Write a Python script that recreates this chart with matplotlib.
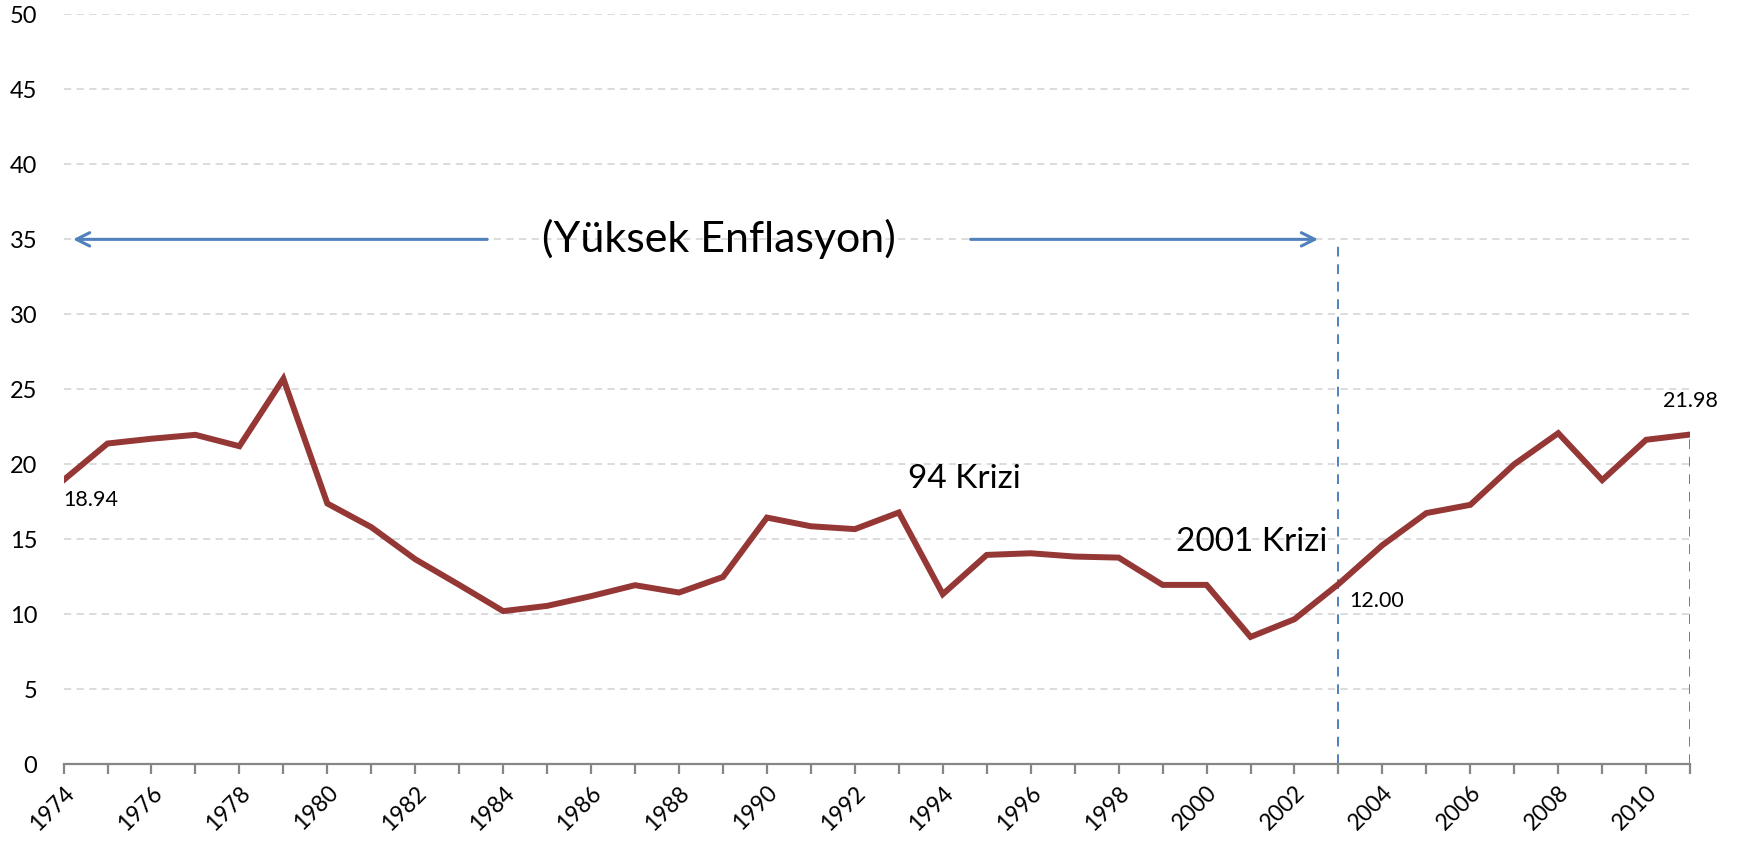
import matplotlib
matplotlib.use("Agg")
import matplotlib.pyplot as plt

plt.rcParams['font.family'] = ['Lato', 'DejaVu Sans']

years = list(range(1974, 2012))
values = [18.94, 21.38, 21.70, 21.96, 21.20, 25.70, 17.38, 15.80, 13.66, 11.95,
          10.20, 10.55, 11.20, 11.93, 11.44, 12.48, 16.44, 15.86, 15.67, 16.78,
          11.33, 13.95, 14.06, 13.84, 13.77, 11.95, 11.95, 8.48, 9.66, 12.00,
          14.60, 16.74, 17.29, 20.00, 22.07, 18.94, 21.63, 21.98]
yticks = [0, 5, 10, 15, 20, 25, 30, 35, 40, 45, 50]

line_color = '#953735'
blue = '#4f81bd'

fig = plt.figure(figsize=(17.46, 8.42), dpi=100)
ax = fig.add_axes([0.0364, 0.0926, 0.9316, 0.8902])

ax.plot(years, values, color=line_color, lw=4.3, solid_joinstyle='miter', zorder=3)

ax.set_xlim(1974, 2011)
ax.set_ylim(0, 50)
ax.set_yticks(yticks)
ax.yaxis.grid(True, color='#d9d9d9', linestyle=(0, (4, 3)), lw=1.3)
ax.set_axisbelow(True)
for s in ['left', 'right', 'top']:
    ax.spines[s].set_visible(False)
ax.spines['bottom'].set_color('#868686')
ax.spines['bottom'].set_linewidth(1.6)
ax.tick_params(axis='y', length=0, pad=19, labelsize=17)
ax.set_xticks(years)
ax.set_xticklabels([str(y) if (y - 1974) % 2 == 0 else '' for y in years],
                   rotation=45, ha='right', va='top', rotation_mode='anchor', fontsize=16.5)
ax.tick_params(axis='x', direction='out', length=7, width=1.6, color='#868686', pad=6)

# Arrows
ax.annotate('', xy=(1974.15, 35), xytext=(1983.7, 35),
            arrowprops=dict(arrowstyle='->', color=blue, lw=2.2, mutation_scale=24))
ax.annotate('', xy=(2002.6, 35), xytext=(1994.57, 35),
            arrowprops=dict(arrowstyle='->', color=blue, lw=2.2, mutation_scale=24))
ax.text(1988.9, 35, '(Yüksek Enflasyon)', fontsize=31, ha='center', va='center')

# Vertical dashed lines
ax.plot([2003, 2003], [0, 35], color=blue, lw=1.4, linestyle=(0, (5, 4)))
ax.plot([2011, 2011], [0, values[-1]], color=blue, lw=1.4, linestyle=(0, (5, 4)))

# Annotations
ax.text(1993.2, 19.0, '94 Krizi', fontsize=24, ha='left', va='center')
ax.text(1999.3, 14.8, '2001 Krizi', fontsize=24, ha='left', va='center')
ax.text(1974.0, 17.6, '18.94', fontsize=15.5, ha='left', va='center')
ax.text(2003.25, 10.9, '12.00', fontsize=15.5, ha='left', va='center')
ax.text(2011, 24.2, '21.98', fontsize=15.5, ha='center', va='center', clip_on=False)

fig.savefig('out.png', dpi=100)
